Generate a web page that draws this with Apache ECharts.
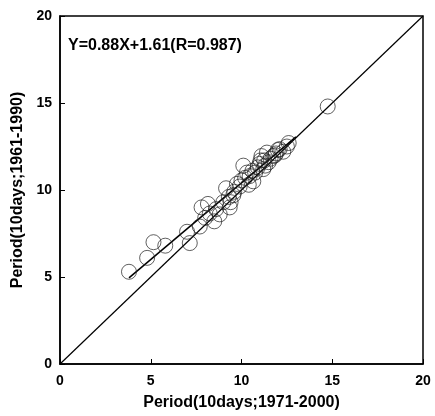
<!DOCTYPE html>
<html><head><meta charset="utf-8">
<script src="https://cdn.jsdelivr.net/npm/echarts@6/dist/echarts.min.js"></script>
<style>html,body{margin:0;padding:0;background:#fff}#c{width:435px;height:416px}</style>
</head><body><div id="c"></div>
<script>
var xTicks = [0, 5, 10, 15, 20];
var yTicks = [0, 5, 10, 15, 20];
var xName = 'Period(10days;1971-2000)';
var yName = 'Period(10days;1961-1990)';
var equationText = 'Y=0.88X+1.61(R=0.987)';
var obsX = [3.8, 4.8, 5.15, 5.8, 7.0, 7.15, 7.7, 7.8, 8.15, 8.25, 8.5, 8.8, 9.15, 9.3, 9.35, 9.4, 9.6, 9.75, 9.9, 10.0, 10.1, 10.2, 10.3, 10.45, 10.6, 10.75, 10.9, 11.0, 11.1, 11.2, 11.3, 11.4, 11.5, 11.6, 11.75, 11.9, 12.1, 12.3, 12.5, 12.6, 9.0, 8.0, 10.4, 11.05, 9.55, 10.65, 11.25, 11.85, 12.0, 8.6, 14.75];
var obsY = [5.3, 6.1, 7.0, 6.8, 7.6, 6.95, 7.9, 9.0, 9.2, 8.65, 8.2, 8.6, 10.1, 9.6, 9.0, 9.3, 9.9, 10.35, 10.2, 10.55, 11.4, 10.7, 11.0, 10.8, 11.1, 11.0, 11.3, 11.5, 11.95, 11.2, 11.4, 12.15, 11.6, 11.8, 11.95, 12.1, 12.35, 12.2, 12.5, 12.7, 9.3, 8.4, 10.3, 11.7, 9.7, 10.5, 11.7, 12.0, 12.3, 8.9, 14.8];
var fitX = [3.8, 13.0];
var fitY = [4.95, 13.05];
var oneX = [0, 20];
var oneY = [0, 20];

function pairs(a, b) { return a.map(function (v, i) { return [v, b[i]]; }); }

var chart = echarts.init(document.getElementById('c'));
var font = 'Liberation Sans, Arial, sans-serif';
chart.setOption({
  animation: false,
  grid: { left: 60, right: 12, top: 16, bottom: 49, show: true, borderColor: '#000', borderWidth: 1.5, backgroundColor: 'transparent' },
  xAxis: {
    type: 'value', min: 0, max: 20, interval: 5,
    name: xName, nameLocation: 'middle', nameGap: 31,
    nameTextStyle: { fontFamily: font, fontWeight: 'bold', fontSize: 16, color: '#000' },
    axisLine: { show: true, lineStyle: { color: '#000', width: 1.5 } },
    axisTick: { show: true, inside: true, length: 5, lineStyle: { color: '#000' } },
    axisLabel: { fontFamily: font, fontWeight: 'bold', fontSize: 14, color: '#000', margin: 10,
      formatter: function (v) { return xTicks.indexOf(v) >= 0 ? String(v) : ''; } },
    splitLine: { show: false }
  },
  yAxis: {
    type: 'value', min: 0, max: 20, interval: 5,
    name: yName, nameLocation: 'middle', nameGap: 29,
    nameTextStyle: { fontFamily: font, fontWeight: 'bold', fontSize: 16, color: '#000' },
    axisLine: { show: true, lineStyle: { color: '#000', width: 1.5 } },
    axisTick: { show: true, inside: true, length: 5, lineStyle: { color: '#000' } },
    axisLabel: { fontFamily: font, fontWeight: 'bold', fontSize: 14, color: '#000', margin: 8,
      formatter: function (v) { return yTicks.indexOf(v) >= 0 ? String(v) : ''; } },
    splitLine: { show: false }
  },
  graphic: [{
    type: 'text', left: 68, top: 38,
    style: { text: equationText, fontFamily: font, fontWeight: 'bold', fontSize: 16, fill: '#000' }
  }],
  series: [
    { type: 'line', data: pairs(oneX, oneY), symbol: 'none', lineStyle: { color: '#000', width: 1.2 }, z: 3 },
    { type: 'line', data: pairs(fitX, fitY), symbol: 'none', lineStyle: { color: '#000', width: 1.5 }, z: 3 },
    { type: 'scatter', data: pairs(obsX, obsY), symbol: 'circle', symbolSize: 15,
      itemStyle: { color: 'transparent', borderColor: '#222', borderWidth: 0.9 }, z: 4 }
  ]
});
</script></body></html>
